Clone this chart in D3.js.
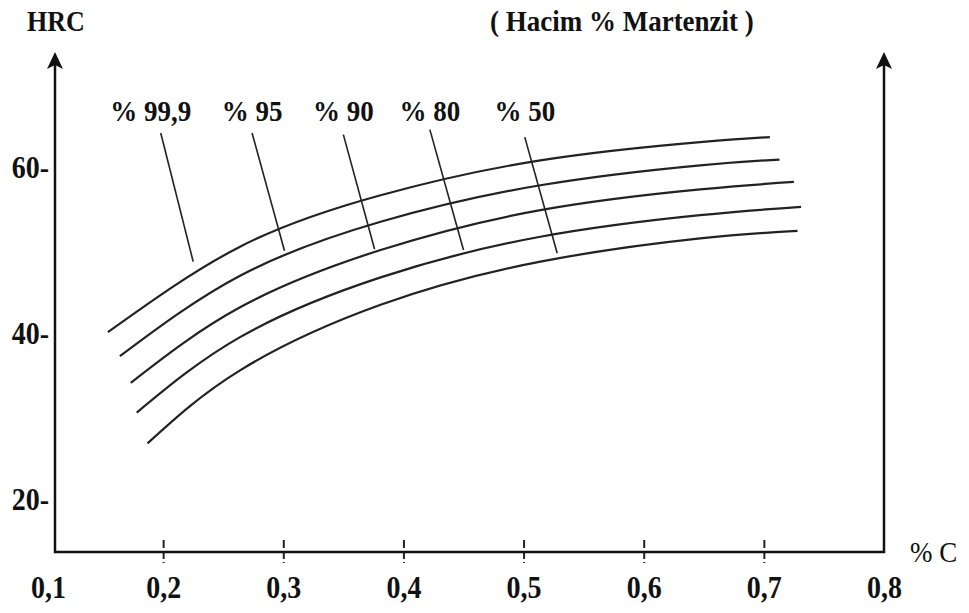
<!DOCTYPE html>
<html>
<head>
<meta charset="utf-8">
<script src="https://cdn.jsdelivr.net/npm/d3@7"></script>
<style>
  body { margin: 0; background: #fff; }
  text { font-family: "Liberation Serif", "Times New Roman", serif; fill: #111; }
</style>
</head>
<body>
<svg id="chart"></svg>
<script>
var width = 969, height = 613;

// data: [ %C , HRC ]
const labels = ["% 99,9", "% 95", "% 90", "% 80", "% 50"];
const c999 = [[0.154, 40.1], [0.264, 50.4], [0.381, 56.6], [0.514, 60.8], [0.647, 63.0], [0.705, 63.6]];
const c95 = [[0.164, 37.2], [0.264, 46.9], [0.381, 53.4], [0.514, 57.8], [0.647, 60.2], [0.713, 60.9]];
const c90 = [[0.173, 34.0], [0.264, 43.1], [0.381, 50.0], [0.514, 54.8], [0.647, 57.3], [0.725, 58.2]];
const c80 = [[0.178, 30.4], [0.264, 39.5], [0.381, 46.7], [0.514, 51.6], [0.647, 54.2], [0.731, 55.2]];
const c50 = [[0.187, 26.7], [0.264, 35.5], [0.381, 43.4], [0.514, 48.6], [0.647, 51.4], [0.728, 52.3]];
const curves = [c999, c95, c90, c80, c50];

// leader lines from each label down to its curve
const leaderFrom = [[0.198, 64.1], [0.274, 64.1], [0.350, 63.9], [0.422, 64.5], [0.501, 63.6]];
const leaderTo = [[0.225, 48.6], [0.301, 49.9], [0.376, 50.1], [0.450, 50.0], [0.528, 49.6]];
const labelHRC = 65.5; // height of the label row

const xTicks = [0.1, 0.2, 0.3, 0.4, 0.5, 0.6, 0.7, 0.8];
const yTicks = [20, 40, 60];

var svg = d3.select("#chart").attr("width", width).attr("height", height);
svg.append("rect").attr("width", width).attr("height", height).attr("fill", "#fff");

var x = d3.scaleLinear().domain([0.1, 0.8]).range([43, 884]);
var y = d3.scaleLinear().domain([20, 60]).range([499, 167]);

var axisY = 552, leftX = 55, rightX = x(0.8), topY = 52;
var stretch = "scale(1,1.12)";

// x axis labels + ticks
var fmt = function (d) { return d3.format(".1f")(d).replace(".", ","); };
var gx = svg.append("g").attr("transform", "translate(0," + axisY + ")")
  .call(d3.axisBottom(x).tickValues(xTicks).tickFormat(fmt).tickSize(11));
gx.select(".domain").remove();
gx.selectAll(".tick line")
  .attr("y1", -12).attr("y2", 11)
  .attr("stroke", "#222").attr("stroke-width", 2)
  .attr("stroke-dasharray", "8,3")
  .attr("opacity", function (d) { return (d > 0.1 && d < 0.8) ? 1 : 0; });
gx.selectAll(".tick text")
  .attr("y", 0).attr("dy", null)
  .attr("transform", function (d) { return "translate(" + (d == 0.1 ? 5 : 0) + ",46) " + stretch; })
  .attr("font-size", 28).attr("font-weight", "bold")
  .attr("font-family", "Liberation Serif").attr("fill", "#111");

// y axis labels
var gy = svg.append("g").attr("transform", "translate(" + leftX + ",0)")
  .call(d3.axisLeft(y).tickValues(yTicks).tickFormat(function (d) { return d + "-"; }).tickSize(0));
gy.select(".domain").remove();
gy.selectAll(".tick text")
  .attr("x", 0).attr("dy", null)
  .attr("transform", "translate(-6,10) " + stretch)
  .attr("font-size", 28).attr("font-weight", "bold")
  .attr("font-family", "Liberation Serif").attr("fill", "#111");

// axis lines
svg.append("path")
  .attr("d", "M" + leftX + "," + (topY + 10) + "V" + axisY + "H" + rightX + "V" + (topY + 10))
  .attr("fill", "none").attr("stroke", "#111").attr("stroke-width", 2.5);

// arrow heads
[leftX, rightX].forEach(function (ax) {
  svg.append("path")
    .attr("d", "M0,0 L-8,17 L0,13 L8,17 Z")
    .attr("transform", "translate(" + ax + "," + topY + ")")
    .attr("fill", "#111");
});

// curves
var line = d3.line()
  .x(function (d) { return x(d[0]); })
  .y(function (d) { return y(d[1]); })
  .curve(d3.curveNatural);

svg.selectAll(".curve")
  .data(curves)
  .enter().append("path")
  .attr("class", "curve")
  .attr("d", line)
  .attr("fill", "none")
  .attr("stroke", "#222")
  .attr("stroke-width", 2.2);

// leader lines
svg.selectAll(".leader")
  .data(leaderFrom)
  .enter().append("line")
  .attr("class", "leader")
  .attr("x1", function (d) { return x(d[0]); })
  .attr("y1", function (d) { return y(d[1]); })
  .attr("x2", function (d, i) { return x(leaderTo[i][0]); })
  .attr("y2", function (d, i) { return y(leaderTo[i][1]); })
  .attr("stroke", "#222")
  .attr("stroke-width", 1.6);

// curve labels
svg.selectAll(".lbl")
  .data(labels)
  .enter().append("text")
  .attr("class", "lbl")
  .attr("transform", function (d, i) {
    return "translate(" + (x(leaderFrom[i][0]) - (i == 0 ? 10 : 0)) + "," + y(labelHRC) + ") " + stretch;
  })
  .attr("text-anchor", "middle")
  .attr("font-size", 27).attr("font-weight", "bold")
  .text(function (d) { return d; });

// titles
svg.append("text").attr("transform", "translate(27,31) " + stretch)
  .attr("font-size", 26).attr("font-weight", "bold").text("HRC");
svg.append("text").attr("transform", "translate(490,31) " + stretch)
  .attr("font-size", 27).attr("font-weight", "bold").text("( Hacim % Martenzit )");
svg.append("text").attr("transform", "translate(910,562) " + stretch)
  .attr("font-size", 27).text("% C");
</script>
</body>
</html>
